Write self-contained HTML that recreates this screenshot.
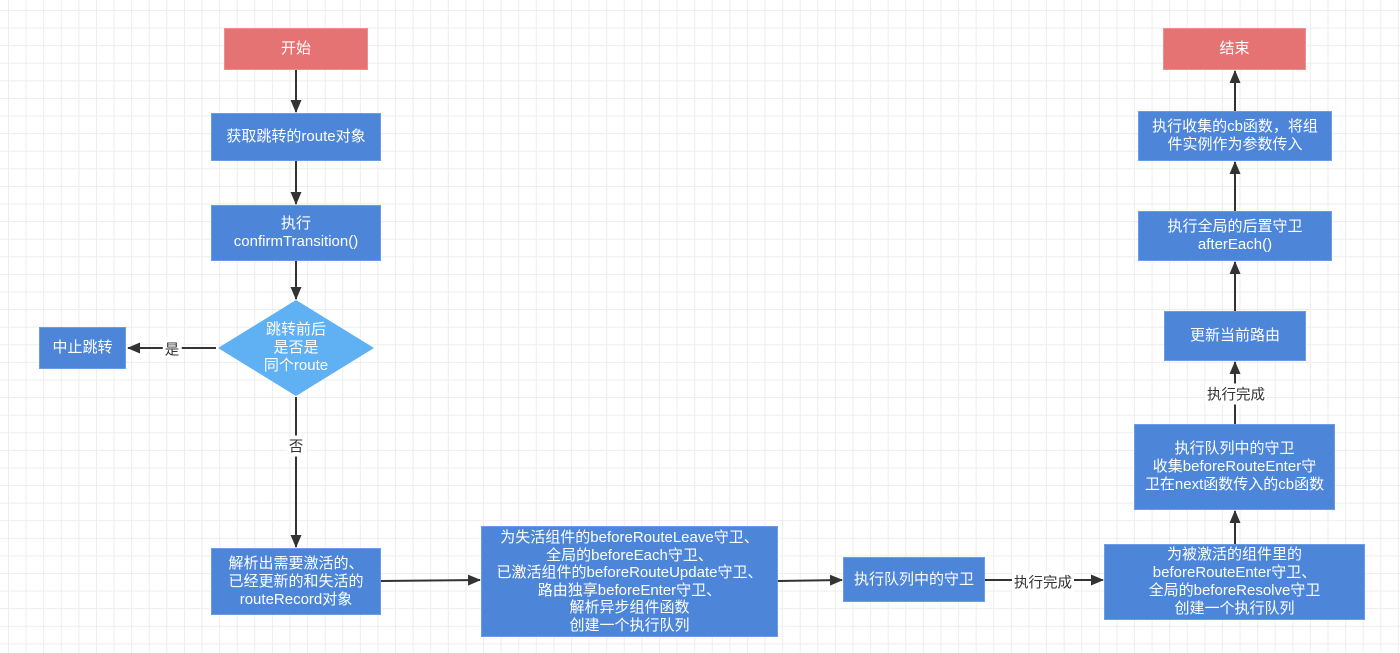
<!DOCTYPE html>
<html><head><meta charset="utf-8"><style>
body{margin:0;width:1400px;height:653px;overflow:hidden;background:#fff;
background-image:linear-gradient(#ededed 1px,transparent 1px),linear-gradient(90deg,#ededed 1px,transparent 1px);
background-size:17.6px 17.6px;background-position:8px 10px;
font-family:"Liberation Sans","Noto Sans CJK SC",sans-serif;}
.b{position:absolute;display:flex;align-items:center;justify-content:center;text-align:center;color:#fff;font-size:15px;line-height:18px;background:#4d86d9;box-sizing:border-box;border:1px solid #6a9de6;white-space:nowrap}
.r{background:#e57373;border-color:#ee8f8f}
.l{position:absolute;font-size:14.5px;color:#333;background:#fff;padding:0 2px;transform:translate(-50%,-50%);white-space:nowrap}
svg{position:absolute;left:0;top:0}
</style></head><body>
<svg width="1400" height="653">
<defs><marker id="a" markerWidth="14" markerHeight="12" refX="12" refY="5.5" orient="auto" markerUnits="userSpaceOnUse"><path d="M0,0L13,5.5L0,11z" fill="#333"/></marker></defs>
<g stroke="#333" stroke-width="2" fill="none" marker-end="url(#a)">
<path d="M296 70V112"/><path d="M296 161V204"/><path d="M296 261V299"/>
<path d="M216 348H128"/><path d="M296 397V547"/>
<path d="M381 581L480 580"/><path d="M778 581L842 580"/>
<path d="M985 580H1103"/><path d="M1235 544V511"/><path d="M1235 424V362"/>
<path d="M1235 311V262"/><path d="M1235 211V162"/><path d="M1235 111V71"/>
</g>
<polygon points="296,300 374,348 296,396 218,348" fill="#60b0f4"/>
</svg>
<div class="b r" style="left:224px;top:28px;width:144px;height:42px">开始</div>
<div class="b" style="left:211px;top:113px;width:170px;height:48px">获取跳转的route对象</div>
<div class="b" style="left:211px;top:205px;width:170px;height:56px">执行<br>confirmTransition()</div>
<div class="b" style="left:236px;top:318px;width:120px;height:60px;background:none;border:none">跳转前后<br>是否是<br>同个route</div>
<div class="b" style="left:39px;top:327px;width:87px;height:42px">中止跳转</div>
<div class="l" style="left:172px;top:349px">是</div>
<div class="l" style="left:296px;top:446px">否</div>
<div class="b" style="left:211px;top:548px;width:170px;height:67px">解析出需要激活的、<br>已经更新的和失活的<br>routeRecord对象</div>
<div class="b" style="left:481px;top:526px;width:297px;height:111px;line-height:17.5px">为失活组件的beforeRouteLeave守卫、<br>全局的beforeEach守卫、<br>已激活组件的beforeRouteUpdate守卫、<br>路由独享beforeEnter守卫、<br>解析异步组件函数<br>创建一个执行队列</div>
<div class="b" style="left:843px;top:557px;width:142px;height:45px">执行队列中的守卫</div>
<div class="l" style="left:1043px;top:582px">执行完成</div>
<div class="b" style="left:1104px;top:544px;width:261px;height:76px">为被激活的组件里的<br>beforeRouteEnter守卫、<br>全局的beforeResolve守卫<br>创建一个执行队列</div>
<div class="b" style="left:1134px;top:424px;width:201px;height:86px">执行队列中的守卫<br>收集beforeRouteEnter守<br>卫在next函数传入的cb函数</div>
<div class="l" style="left:1236px;top:394px">执行完成</div>
<div class="b" style="left:1164px;top:311px;width:142px;height:50px">更新当前路由</div>
<div class="b" style="left:1138px;top:211px;width:194px;height:50px">执行全局的后置守卫<br>afterEach()</div>
<div class="b" style="left:1138px;top:111px;width:194px;height:50px">执行收集的cb函数，将组<br>件实例作为参数传入</div>
<div class="b r" style="left:1163px;top:28px;width:143px;height:42px">结束</div>
</body></html>
